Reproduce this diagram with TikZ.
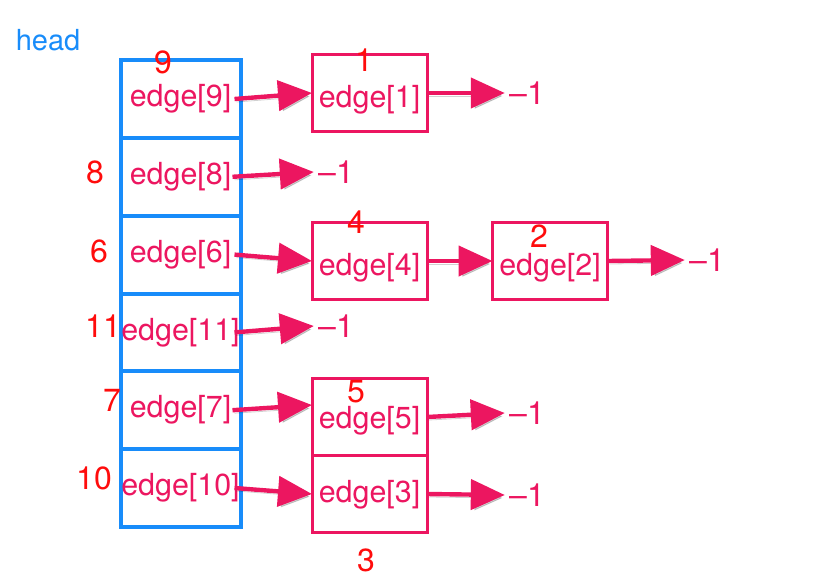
\documentclass[tikz,border=0pt]{standalone}
\usepackage{fontspec}
\setmainfont{TeX Gyre Heros}
\usetikzlibrary{positioning,arrows.meta}
\definecolor{headblue}{RGB}{24,140,250}
\definecolor{edgepink}{RGB}{236,22,96}
\definecolor{numred}{RGB}{255,12,12}

\begin{document}
\begin{tikzpicture}[x=0.5pt,y=-0.5pt,>={Triangle[length=17pt,width=15pt]},
        cell/.style={draw=headblue,line width=2pt,minimum width=60pt,minimum height=38.9pt,
            inner sep=0pt,outer sep=0pt,text=edgepink,font=\fontsize{15.2}{18}\selectfont},
        box/.style={draw=edgepink,line width=1.5pt,minimum width=57.5pt,minimum height=38.5pt,
            inner sep=0pt,outer sep=0pt,text=edgepink,font=\fontsize{15.2}{18}\selectfont,
            text depth=4pt},
        low/.style={text height=#1},
        num/.style={text=numred,inner sep=0pt,font=\fontsize{16}{19}\selectfont},
        nil/.style={text=edgepink,inner sep=2pt,font=\fontsize{16}{19}\selectfont},
        link/.style={->,draw=edgepink,line width=2.2pt,
            preaction={draw=black,opacity=0.18,transform canvas={shift={(1pt,-1.5pt)}}}}]
        \useasboundingbox (0,0) rectangle (825,579);
        \node[text=headblue,font=\fontsize{14.5}{17}\selectfont] (head) at (48,40) {head};
        % head array
        \node[cell] (h9) at (180.5,99) {edge[9]};
        \node[cell] (h8) [below=0pt of h9] {edge[8]};
        \node[cell] (h6) [below=0pt of h8] {edge[6]};
        \node[cell] (h11) [below=0pt of h6] {edge[11]};
        \node[cell] (h7) [below=0pt of h11] {edge[7]};
        \node[cell] (h10) [below=0pt of h7] {edge[10]};
        % edge boxes
        \node[box,low=18pt] (b1) at (369.5,93) {edge[1]};
        \node[box,low=18pt] (b4) at (369.5,261) {edge[4]};
        \node[box,low=18pt] (b2) at (550,261) {edge[2]};
        \node[box,low=15pt] (b5) at (369.5,417) {edge[5]};
        \node[box,low=12pt] (b3) [below=0pt of b5] {edge[3]};
        % indices
        \node[num] (n9) at (163,62) {9};
        \node[num] (n8) at (95,172) {8};
        \node[num] (n6) at (99,251) {6};
        \node[num] (n11) at (103,326) {11};
        \node[num] (n7) at (112,400) {7};
        \node[num] (n10) at (94,478) {10};
        \node[num] (n1) at (364,60) {1};
        \node[num] (n4) at (356,222) {4};
        \node[num] (n2) at (539,236) {2};
        \node[num] (n5) at (356,392) {5};
        \node[num] (n3) at (366,560) {3};
        % end markers
        \node[nil] (e1) at (527,93) {–1};
        \node[nil] (e8) at (336,172) {–1};
        \node[nil] (e2) at (707,260) {–1};
        \node[nil] (e11) at (336,326) {–1};
        \node[nil] (e5) at (527,413) {–1};
        \node[nil] (e3) at (527,495) {–1};
        % links
        \draw[link] ([xshift=-3pt]h9.east) -- (b1.west);
        \draw[link] (b1.east) -- (e1.west);
        \draw[link] ([xshift=-4pt]h8.east) -- (e8.west);
        \draw[link] ([xshift=-3pt]h6.east) -- (b4.west);
        \draw[link] (b4.east) -- (b2.west);
        \draw[link] (b2.east) -- (e2.west);
        \draw[link] ([xshift=-3pt]h11.east) -- (e11.west);
        \draw[link] ([xshift=-4pt]h7.east) -- ([yshift=6pt]b5.west);
        \draw[link] ([xshift=-3pt]h10.east) -- (b3.west);
        \draw[link] (b5.east) -- (e5.west);
        \draw[link] (b3.east) -- (e3.west);
\end{tikzpicture}
\end{document}
